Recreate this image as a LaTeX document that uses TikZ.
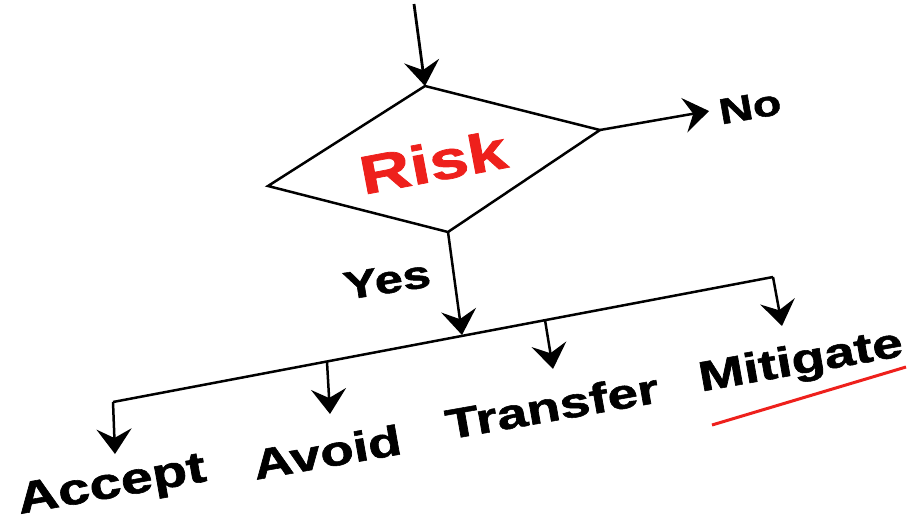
\documentclass[tikz,border=0pt]{standalone}
\usepackage{fontspec}
\setmainfont{Liberation Sans}
\newfontfamily\heavyfont{Liberation Sans Bold}[FakeBold=1.3]
\usepackage{xcolor}
\usepackage{tikz}
\usetikzlibrary{arrows.meta}

\definecolor{riskred}{RGB}{238,32,28}
\newcommand{\wideword}[1]{\scalebox{1.3}[1]{#1}}

\begin{document}
\begin{tikzpicture}[
    x=1pt,y=-1pt,
    flow/.style={line width=2.5pt},
    choice/.style={rotate=10,inner sep=0pt,font=\heavyfont\fontsize{42}{42}\selectfont},
    >={Stealth[length=25pt,width=35pt,inset=9pt]},
]
    \useasboundingbox (0,0) rectangle (907,522);

    % decision
    \coordinate (in) at (414,4);
    \coordinate (dtop) at (425,86);
    \coordinate (dright) at (600,130);
    \coordinate (dbottom) at (448,232);
    \coordinate (dleft) at (268,186);
    \draw[flow,line join=miter] (dtop) -- (dright) -- (dbottom) -- (dleft) -- cycle;
    \node[choice,rotate=0.7,text=riskred,font=\heavyfont\fontsize{54}{54}\selectfont] (risk) at (433,162) {\wideword{Risk}};
    \draw[flow,line width=2.8pt,->] (in) -- (dtop);

    % no branch
    \node[choice,font=\heavyfont\fontsize{36}{36}\selectfont] (no) at (750,107) {\wideword{No}};
    \coordinate (noend) at (709,111);
    \draw[flow,->] (dright) -- (noend);

    % yes branch
    \node[choice,rotate=-1,font=\heavyfont\fontsize{39}{39}\selectfont] (yes) at (387,280) {\wideword{Yes}};
    \coordinate (barL) at (113,402);
    \coordinate (barR) at (773,277);
    \coordinate (yesend) at (462,335);
    \draw[flow] (barL) -- (barR);
    \draw[flow,->] (dbottom) -- (yesend);

    % options
    \node[choice,font=\heavyfont\fontsize{44}{44}\selectfont] (accept) at (112,487) {\wideword{Accept}};
    \node[choice] (avoid) at (327,452) {\wideword{Avoid}};
    \node[choice] (transfer) at (552,406) {\wideword{Transfer}};
    \node[choice] (mitigate) at (801,363) {\wideword{Mitigate}};

    \coordinate (avoidfork) at (327,362);
    \coordinate (transferfork) at (545,320);
    \coordinate (acceptend) at (115,454);
    \coordinate (avoidend) at (330,414);
    \coordinate (transferend) at (553,369);
    \coordinate (mitigateend) at (782,326);
    \draw[flow,->] (barL) -- (acceptend);
    \draw[flow,->] (avoidfork) -- (avoidend);
    \draw[flow,->] (transferfork) -- (transferend);
    \draw[flow,->] (barR) -- (mitigateend);

    % underline
    \coordinate (ulstart) at (712,425);
    \coordinate (ulend) at (906,367);
    \draw[riskred,line width=3pt] (ulstart) -- (ulend);
\end{tikzpicture}
\end{document}
